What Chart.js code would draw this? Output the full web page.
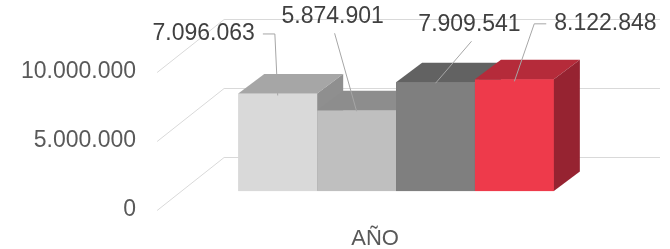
<!DOCTYPE html>
<html>
<head>
<meta charset="utf-8">
<script src="https://cdn.jsdelivr.net/npm/chart.js@4/dist/chart.umd.min.js"></script>
<style>
html,body{margin:0;padding:0;background:#fff;}
#c{display:block;}
</style>
</head>
<body>
<canvas id="c" width="670" height="249"></canvas>
<script>
// ---- data ----
const categories = ['AÑO'];
const seriesNames = ['Serie 1', 'Serie 2', 'Serie 3', 'Serie 4'];
const seriesValues = [7096063, 5874901, 7909541, 8122848];
const yTickValues = [0, 5000000, 10000000];

// ---- styles ----
const frontColors = ['#d9d9d9', '#bfbfbf', '#7f7f7f', '#ee3a4b'];
const topColors   = ['#a6a6a6', '#8d8d8d', '#626262', '#b52b3a'];
const sideColors  = ['#8f8f8f', '#777777', '#4f4f4f', '#962331'];
const labelOffsets = [[-74, -60], [-24, -94], [34, -58], [91, -56]];
const FONT = "'Liberation Sans', Arial, sans-serif";
const WALL = { dx: 67, dy: -53 };   // full depth of the 3D box
const FRONT = { dx: 21, dy: -18.5 };  // bar front plane offset
const BARD = { dx: 26, dy: -19.5 }; // bar depth

function fmt(v) {
  return String(Math.round(v)).replace(/\B(?=(\d{3})+(?!\d))/g, '.');
}

const gridPlugin = {
  id: 'grid3d',
  beforeDatasetsDraw(chart) {
    const ctx = chart.ctx, ys = chart.scales.y, a = chart.chartArea;
    ctx.save();
    ctx.strokeStyle = '#d9d9d9';
    ctx.lineWidth = 1;
    ys.ticks.forEach(t => {
      const y = Math.round(ys.getPixelForValue(t.value)) + 0.5;
      ctx.beginPath();
      ctx.moveTo(a.left, y);
      ctx.lineTo(a.left + WALL.dx, y + WALL.dy);
      ctx.lineTo(a.right + WALL.dx, y + WALL.dy);
      ctx.stroke();
    });
    ctx.restore();
    ctx.save();
    ctx.translate(FRONT.dx, FRONT.dy);
  },
  afterDatasetsDraw(chart) {
    const ctx = chart.ctx;
    chart.data.datasets.forEach((ds, i) => {
      chart.getDatasetMeta(i).data.forEach(el => {
        const p = el.getProps(['x', 'y', 'base', 'width'], true);
        const l = p.x - p.width / 2, r = p.x + p.width / 2;
        const top = Math.min(p.y, p.base), bot = Math.max(p.y, p.base);
        ctx.fillStyle = frontColors[i];
        ctx.fillRect(l, top, r - l, bot - top);
        ctx.fillStyle = topColors[i];
        ctx.beginPath();
        ctx.moveTo(l, top);
        ctx.lineTo(r, top);
        ctx.lineTo(r + BARD.dx, top + BARD.dy);
        ctx.lineTo(l + BARD.dx, top + BARD.dy);
        ctx.closePath();
        ctx.fill();
        ctx.fillStyle = sideColors[i];
        ctx.beginPath();
        ctx.moveTo(r, top);
        ctx.lineTo(r + BARD.dx, top + BARD.dy);
        ctx.lineTo(r + BARD.dx, bot + BARD.dy);
        ctx.lineTo(r, bot);
        ctx.closePath();
        ctx.fill();
      });
    });
    ctx.restore();
  }
};

const labelPlugin = {
  id: 'leaderLabels',
  afterDraw(chart) {
    const ctx = chart.ctx;
    ctx.save();
    ctx.font = '23px ' + FONT;
    ctx.textAlign = 'center';
    ctx.textBaseline = 'middle';
    chart.data.datasets.forEach((ds, i) => {
      const el = chart.getDatasetMeta(i).data[0];
      const p = el.getProps(['x', 'y'], true);
      const ax = p.x + FRONT.dx, ay = p.y + FRONT.dy;
      const tx = ax + labelOffsets[i][0], ty = ay + labelOffsets[i][1];
      const text = fmt(ds.data[0]);
      const tw = ctx.measureText(text).width;
      ctx.strokeStyle = '#a6a6a6';
      ctx.lineWidth = 1;
      ctx.beginPath();
      if (Math.abs(labelOffsets[i][0]) > tw / 2 + 5) {
        const s = labelOffsets[i][0] < 0 ? 1 : -1;
        const sx = tx + s * (tw / 2 + 8);
        const cx = sx + s * 12;
        ctx.moveTo(sx, ty + 0.5);
        ctx.lineTo(cx, ty + 0.5);
        ctx.lineTo(ax, ay + 2);
      } else {
        ctx.moveTo(tx + 2, ty + 17);
        ctx.lineTo(ax, ay + 1);
      }
      ctx.stroke();
      ctx.fillStyle = '#404040';
      ctx.fillText(text, tx, ty);
    });
    ctx.restore();
  }
};

new Chart(document.getElementById('c'), {
  type: 'bar',
  data: {
    labels: categories,
    datasets: seriesNames.map((n, i) => ({
      label: n,
      data: [seriesValues[i]],
      backgroundColor: frontColors[i],
      borderWidth: 0,
      barPercentage: 1,
      categoryPercentage: 0.724
    }))
  },
  options: {
    responsive: false,
    animation: false,
    layout: { padding: { left: 0, right: 77, top: 72, bottom: -19 } },
    plugins: { legend: { display: false }, tooltip: { enabled: false } },
    scales: {
      x: {
        grid: { display: false, drawTicks: false },
        border: { display: false },
        ticks: { font: { family: FONT, size: 22 }, color: '#595959', padding: 16, maxRotation: 0 }
      },
      y: {
        min: 0, max: 10000000,
        afterBuildTicks(scale) { scale.ticks = yTickValues.map(v => ({ value: v })); },
        grid: { display: false, drawTicks: false },
        border: { display: false },
        ticks: { font: { family: FONT, size: 23 }, color: '#595959', padding: 21, callback: v => fmt(v) }
      }
    }
  },
  plugins: [gridPlugin, labelPlugin]
});
</script>
</body>
</html>
